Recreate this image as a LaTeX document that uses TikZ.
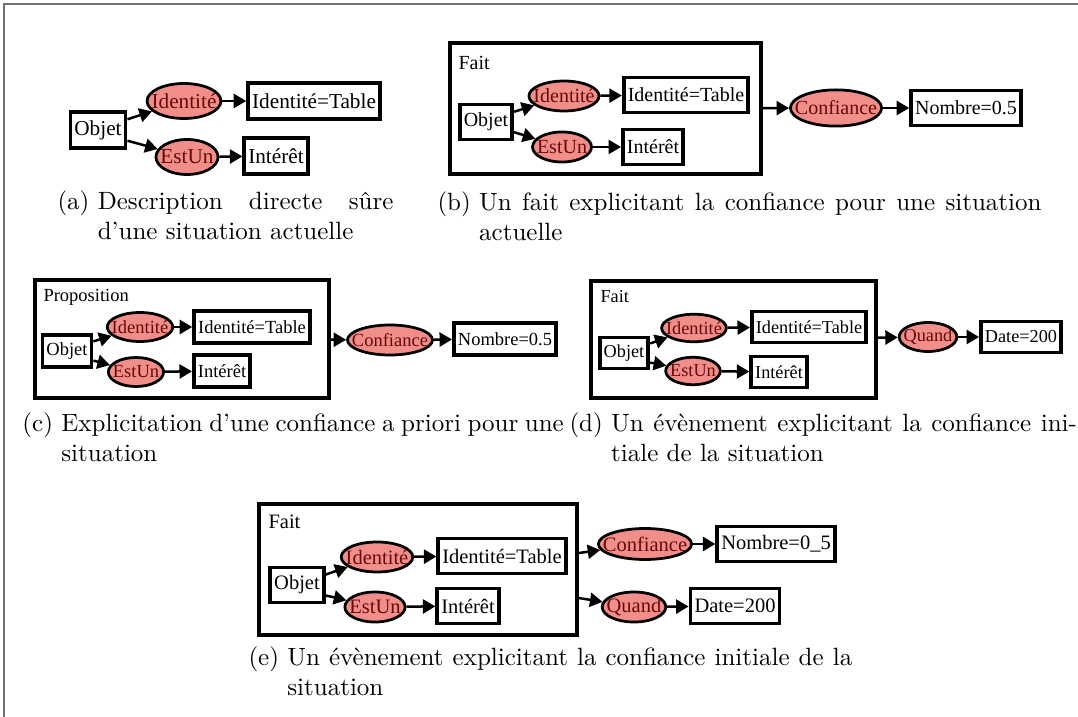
\documentclass[tikz,border=0pt]{standalone}
\usepackage{fontspec}
\newfontfamily\diagfont{Liberation Serif}
\usetikzlibrary{arrows.meta,fit,shapes.geometric}
\definecolor{relpink}{RGB}{242,142,138}
\definecolor{relink}{RGB}{100,10,10}
\newcommand\subcap[2]{\setbox0\hbox{(#1)\ }\hangindent=\wd0 \hangafter=1 \noindent\box0 #2\par}

\begin{document}
\begin{tikzpicture}[
  x=0.4pt, y=-0.4pt,
  box/.style={draw, line width=1.5pt, fill=white, inner xsep=1.6pt, inner ysep=0pt},
  rel/.style={ellipse, draw, line width=1.1pt, fill=relpink, text=relink, inner ysep=0pt,
    inner xsep={-0.5*\wd\pgfnodeparttextbox}, minimum width={\wd\pgfnodeparttextbox+3.6pt}},
  factbox/.style={draw, line width=1.4pt, inner sep=0pt},
  lbl/.style={anchor=west, inner sep=0pt},
  arr/.style={-{Triangle[length=5pt,width=5.6pt]}, line width=1pt},
  captext/.style={anchor=north west, inner sep=0pt, align=justify, font=\fontsize{10}{12}\selectfont}
]
\useasboundingbox (0,0) rectangle (1078,717);
\draw[line width=0.6pt, black!55] (4,717) -- (4,4) -- (1078,4);

% (a)
\begin{scope}[font=\diagfont\fontsize{8.5}{10}\selectfont,
  box/.append style={minimum height=14.4pt}, rel/.append style={minimum height=14pt}]
\node[box] (oA) at (98,130) {Objet};
\node[rel] (iA) at (184,101) {Identité};
\node[box] (tA) at (314,101) {Identité=Table};
\node[rel] (eA) at (187,157) {EstUn};
\node[box] (nA) at (276,156) {Intérêt};
\draw[arr] (oA.20) -- (iA);
\draw[arr] (oA.-20) -- (eA);
\draw[arr] (iA) -- (tA);
\draw[arr] (eA) -- (nA);
\end{scope}
\node[captext, text width=134.4pt] (capA) at (57,190)
  {\subcap{a}{Description directe sûre\linebreak d’une situation actuelle}};

% (b)
\begin{scope}[font=\diagfont\fontsize{8}{10}\selectfont,
  box/.append style={minimum height=14pt}, rel/.append style={minimum height=12pt}]
\node[factbox, fit={(450,43) (761,174)}] (fB) {};
\node[lbl] (lB) at (458,63) {Fait};
\node[box] (oB) at (486,122) {Objet};
\node[rel] (iB) at (564,96) {Identité};
\node[box] (tB) at (686,95) {Identité=Table};
\node[rel] (eB) at (562,147) {EstUn};
\node[box] (nB) at (653,147) {Intérêt};
\node[rel, minimum height=14.5pt] (kB) at (836,108) {Confiance};
\node[box] (vB) at (966,108) {Nombre=0.5};
\draw[arr] (oB.20) -- (iB);
\draw[arr] (oB.-20) -- (eB);
\draw[arr] (iB) -- (tB);
\draw[arr] (eB) -- (nB);
\draw[arr] (fB) -- (kB);
\draw[arr] (kB) -- (vB);
\end{scope}
\node[captext, text width=241.6pt] (capB) at (437,191)
  {\subcap{b}{Un fait explicitant la confiance pour une situation\linebreak actuelle}};

% (c)
\begin{scope}[font=\diagfont\fontsize{7.4}{9}\selectfont,
  box/.append style={minimum height=12.8pt}, rel/.append style={minimum height=11.6pt}]
\node[factbox, fit={(35,280) (329,398)}] (fC) {};
\node[lbl] (lC) at (43,297) {Proposition};
\node[box] (oC) at (67,351) {Objet};
\node[rel] (iC) at (140,327) {Identité};
\node[box] (tC) at (252,327) {Identité=Table};
\node[rel] (eC) at (136,372) {EstUn};
\node[box] (nC) at (222,371) {Intérêt};
\node[rel, minimum height=12pt] (kC) at (390,340) {Confiance};
\node[box] (vC) at (505,339) {Nombre=0.5};
\draw[arr] (oC.20) -- (iC);
\draw[arr] (oC.-20) -- (eC);
\draw[arr] (iC) -- (tC);
\draw[arr] (eC) -- (nC);
\draw[arr] (fC) -- (kC);
\draw[arr] (kC) -- (vC);
\end{scope}
\node[captext, text width=216.5pt] (capC) at (22,412)
  {\subcap{c}{Explicitation d’une confiance a priori pour une\linebreak situation}};

% (d)
\begin{scope}[font=\diagfont\fontsize{7.3}{9}\selectfont,
  box/.append style={minimum height=12.4pt}, rel/.append style={minimum height=11pt}]
\node[factbox, fit={(591,281) (876,398)}] (fD) {};
\node[lbl] (lD) at (600,297) {Fait};
\node[box] (oD) at (624,353) {Objet};
\node[rel] (iD) at (694,328) {Identité};
\node[box] (tD) at (809,327) {Identité=Table};
\node[rel] (eD) at (693,371) {EstUn};
\node[box] (nD) at (779,372) {Intérêt};
\node[rel, minimum height=11.6pt] (qD) at (928,337) {Quand};
\node[box] (wD) at (1021,337) {Date=200};
\draw[arr] (oD.20) -- (iD);
\draw[arr] (oD.-20) -- (eD);
\draw[arr] (iD) -- (tD);
\draw[arr] (eD) -- (nD);
\draw[arr] (fD) -- (qD);
\draw[arr] (qD) -- (wD);
\end{scope}
\node[captext, text width=203pt] (capD) at (569,412)
  {\subcap{d}{Un évènement explicitant la confiance ini-\linebreak tiale de la situation}};

% (e)
\begin{scope}[font=\diagfont\fontsize{8.2}{10}\selectfont,
  box/.append style={minimum height=14pt}, rel/.append style={minimum height=12pt}]
\node[factbox, fit={(259,504) (577,635)}] (fE) {};
\node[lbl] (lE) at (268,522) {Fait};
\node[box] (oE) at (297,585) {Objet};
\node[rel] (iE) at (377,557) {Identité};
\node[box] (tE) at (502,556) {Identité=Table};
\node[rel] (eE) at (375,607) {EstUn};
\node[box] (nE) at (468,606) {Intérêt};
\node[rel, minimum height=12.4pt] (kE) at (645,544) {Confiance};
\node[box] (vE) at (776,544) {Nombre=0\_5};
\node[rel, minimum height=12pt] (qE) at (634,607) {Quand};
\node[box] (wE) at (735,606) {Date=200};
\draw[arr] (oE.20) -- (iE);
\draw[arr] (oE.-20) -- (eE);
\draw[arr] (iE) -- (tE);
\draw[arr] (eE) -- (nE);
\draw[arr] ([yshift=6.6pt]fE.east) -- (kE);
\draw[arr] ([yshift=-11.4pt]fE.east) -- (qE);
\draw[arr] (kE) -- (vE);
\draw[arr] (qE) -- (wE);
\end{scope}
\node[captext, text width=241.5pt] (capE) at (248,646)
  {\subcap{e}{Un évènement explicitant la confiance initiale de la\linebreak situation}};
\end{tikzpicture}
\end{document}
